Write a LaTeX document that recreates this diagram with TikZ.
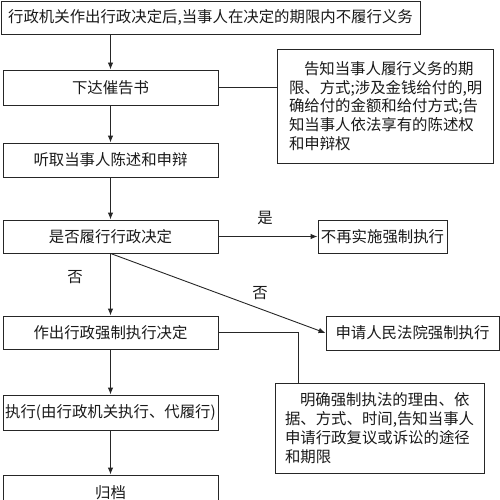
\documentclass[tikz,border=0pt]{standalone}
\usepackage{fontspec}
\setmainfont{Noto Sans CJK SC}
\usetikzlibrary{arrows.meta,calc}
\begin{document}
\begin{tikzpicture}[x=1pt,y=-1pt,
  txt/.style={font=\fontsize{15.4}{18.8}\selectfont, text=black!90},
  box/.style={txt, draw=black!85, line width=0.9pt, inner sep=0pt, minimum height=34pt},
  mbox/.style={box, minimum width=215pt},
  note/.style={txt, draw=black!85, line width=0.9pt, inner xsep=12pt, inner ysep=0pt, align=left},
  arr/.style={draw=black!85, line width=0.9pt, -{Latex[length=7pt,width=5.5pt]}},
  ln/.style={draw=black!85, line width=0.9pt},
  lab/.style={txt, inner sep=0pt}]
\useasboundingbox (0,0) rectangle (500,500);
\node[box, minimum width=419pt, minimum height=33pt] (b1) at (210.5,17.5) {行政机关作出行政决定后,当事人在决定的期限内不履行义务};
\node[mbox, minimum height=35pt] (b2) at (110.5,87.5) {下达催告书};
\node[mbox] (b3) at (110.5,160) {听取当事人陈述和申辩};
\node[mbox, minimum height=33pt] (b4) at (110.5,236.5) {是否履行行政决定};
\node[box, minimum width=129pt, minimum height=33pt] (b5) at (382.5,236.5) {不再实施强制执行};
\node[box, minimum width=173pt] (b6) at (412.5,333) {申请人民法院强制执行};
\node[mbox, minimum height=33pt] (b7) at (110.5,332.5) {作出行政强制执行决定};
\node[mbox, minimum height=35pt] (b8) at (110.5,412.5) {执行(由行政机关执行、代履行)};
\node[mbox, minimum height=35pt] (b9) at (110.5,492.5) {归档};
\node[note, text width=192pt, minimum height=114pt] (n1) at (385,106) {\hspace*{15pt}告知当事人履行义务的期\\限、方式;涉及金钱给付的,明\\确给付的金额和给付方式;告\\知当事人依法享有的陈述权\\和申辩权};
\node[note, inner xsep=10pt, text width=189pt, minimum height=90pt] (n2) at (379.5,428) {\hspace*{15pt}明确强制执法的理由、依\\据、方式、时间,告知当事人\\申请行政复议或诉讼的途径\\和期限};
\coordinate (k) at (298,383);
\node[lab] (l1) at (265,218) {是};
\node[lab] (l2) at (75,277) {否};
\node[lab] (l3) at (260,293) {否};
\draw[arr] (b2.north |- b1.south) -- (b2.north);
\draw[ln] (b2.east) -- (b2.east -| n1.west);
\draw[arr] (b2.south) -- (b3.north);
\draw[arr] (b3.south) -- (b4.north);
\draw[arr] (b4.east) -- (b5.west);
\draw[arr] (b4.south) -- (b7.north);
\draw[arr] (b4.south) -- (b6.west);
\draw[ln] (b7.east) -| (k);
\draw[arr] (b7.south) -- (b8.north);
\draw[arr] (b8.south) -- (b9.north);
\end{tikzpicture}
\end{document}
